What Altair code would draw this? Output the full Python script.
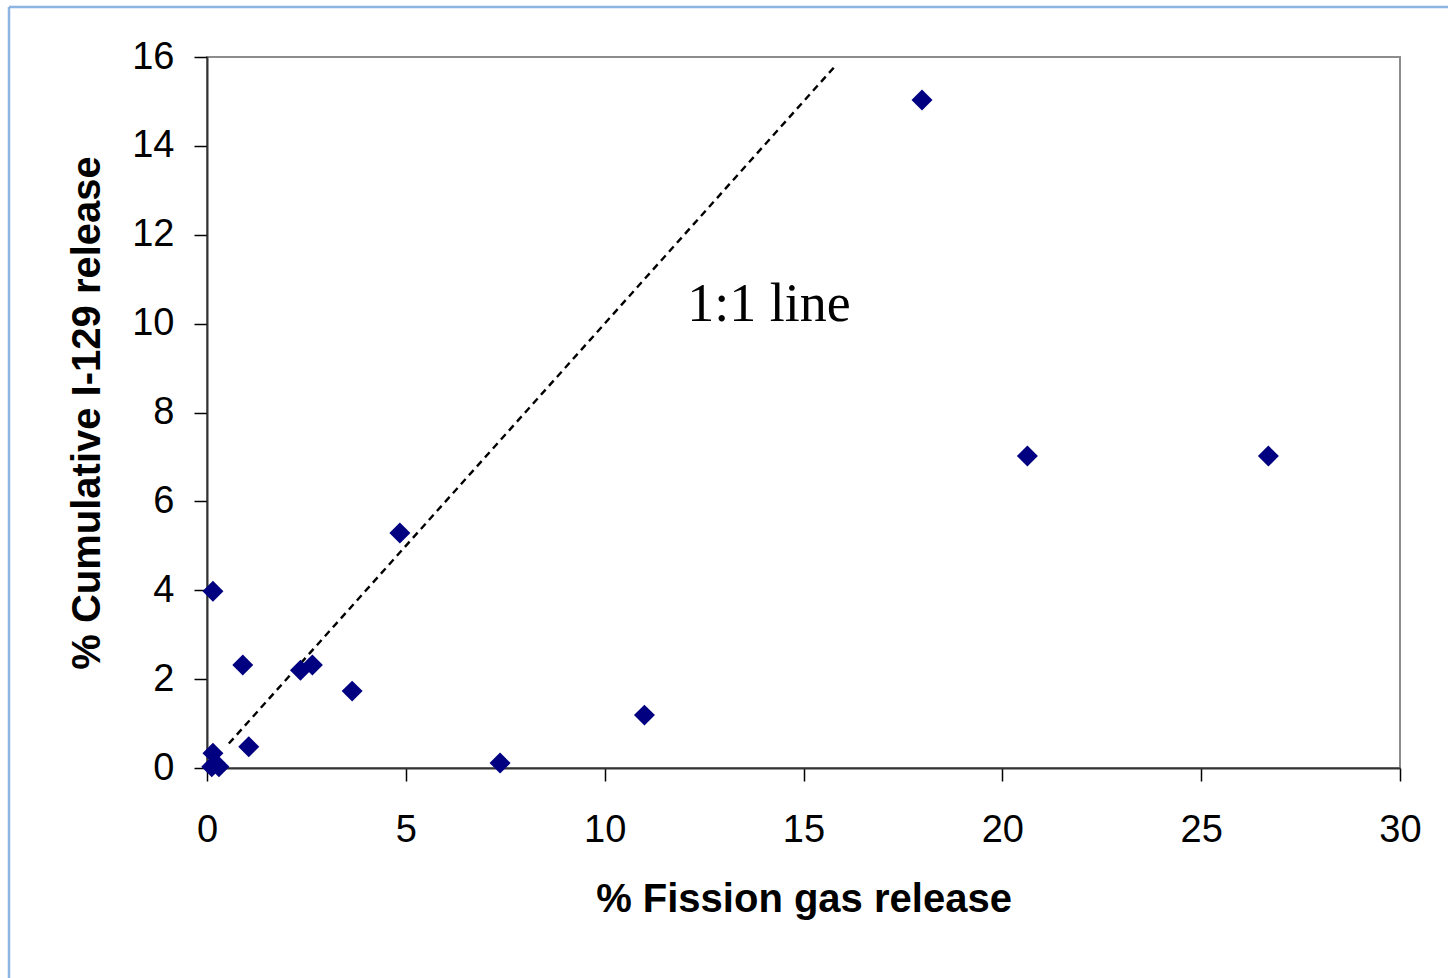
import altair as alt
import pandas as pd

# Data
fgr = [0.15, 0.9, 1.05, 0.15, 0.12, 0.3, 2.35, 2.65, 3.65, 4.85, 7.37, 11.0, 17.98, 20.63, 26.69]
i129 = [3.98, 2.32, 0.48, 0.33, 0.03, 0.03, 2.2, 2.32, 1.73, 5.29, 0.11, 1.19, 15.03, 7.02, 7.02]
line_x = [0.55, 15.8]
label_text = ["1:1 line"]
label_x = [14.13]
label_y = [10.07]

pts = pd.DataFrame({"x": fgr, "y": i129})
one = pd.DataFrame({"x": line_x, "y": line_x})
lab = pd.DataFrame({"x": label_x, "y": label_y, "t": label_text})

W, H = 1193, 711
PL, PT = 207, 57

xs = alt.Scale(domain=[0, 30], nice=False, zero=False)
ys = alt.Scale(domain=[0, 16], nice=False, zero=False)

xaxis = alt.Axis(values=[0, 5, 10, 15, 20, 25, 30], grid=False, tickSize=13, tickColor="black",
                 domainColor="#333333", domainWidth=2, tickWidth=1.5,
                 labelFont="Liberation Sans", labelFontSize=38, labelColor="black", labelPadding=30,
                 title="% Fission gas release", titleFont="Liberation Sans", titleFontSize=40,
                 titleFontWeight="bold", titleColor="black", titlePadding=30, labelFlush=False)
yaxis = alt.Axis(values=[0, 2, 4, 6, 8, 10, 12, 14, 16], grid=False, tickSize=13, tickColor="black",
                 domainColor="#333333", domainWidth=2, tickWidth=1.5,
                 labelFont="Liberation Sans", labelFontSize=38, labelColor="black", labelPadding=20,
                 title="% Cumulative I-129 release", titleFont="Liberation Sans", titleFontSize=40,
                 titleFontWeight="bold", titleColor="black", titlePadding=24, labelFlush=False)

points = alt.Chart(pts).mark_point(shape="diamond", filled=True, size=440, color="#000080", opacity=1).encode(
    x=alt.X("x:Q", scale=xs, axis=xaxis),
    y=alt.Y("y:Q", scale=ys, axis=yaxis),
)

dline = alt.Chart(one).mark_line(color="black", strokeDash=[7, 5], strokeWidth=2.4).encode(
    x=alt.X("x:Q", scale=xs),
    y=alt.Y("y:Q", scale=ys),
)

txt = alt.Chart(lab).mark_text(font="Liberation Serif", fontSize=54, color="black",
                               align="center", baseline="alphabetic").encode(
    x=alt.X("x:Q", scale=xs),
    y=alt.Y("y:Q", scale=ys),
    text="t:N",
)

border_col = "#8DB4E2"
top_border = alt.Chart(pd.DataFrame({"a": [0]})).mark_rule(color=border_col, strokeWidth=2.5).encode(
    x=alt.value(9 - PL), x2=alt.value(1448 - PL + 10), y=alt.value(7 - PT)
)
left_border = alt.Chart(pd.DataFrame({"a": [0]})).mark_rule(color=border_col, strokeWidth=2.5).encode(
    x=alt.value(9 - PL), y=alt.value(7 - PT), y2=alt.value(978 - PT + 10)
)

chart = alt.layer(top_border, left_border, dline, txt, points).properties(
    width=W, height=H,
    autosize=alt.AutoSizeParams(type="none"),
    padding={"left": PL, "top": PT, "right": 1448 - PL - W, "bottom": 978 - PT - H},
    background="white",
).configure_view(stroke="#8c8c8c", strokeWidth=2)

chart.save("out.html", embed_options={"renderer": "svg", "actions": False})
